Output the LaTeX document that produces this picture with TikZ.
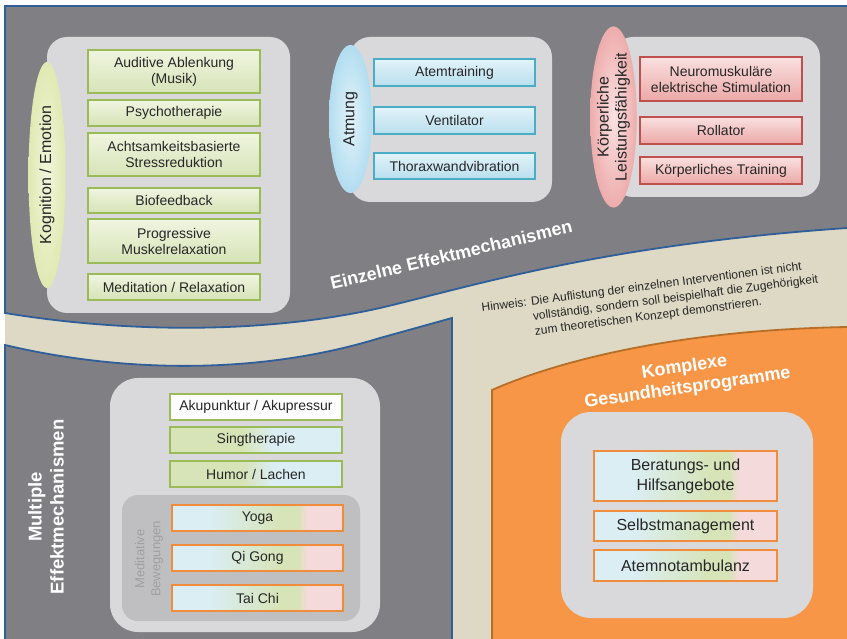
\documentclass[tikz,border=0pt]{standalone}
\usepackage{fontspec}
\setmainfont{Liberation Sans}
\usepackage{xcolor}
\usepackage{tikz}
\usetikzlibrary{shapes.geometric}

\definecolor{regiongray}{RGB}{128,128,132}
\definecolor{regionblue}{RGB}{47,94,153}
\definecolor{bandbeige}{RGB}{221,217,196}
\definecolor{grpgray}{RGB}{217,217,219}
\definecolor{medgray}{RGB}{191,191,193}
\definecolor{medtxt}{RGB}{160,160,163}
\definecolor{txtdark}{RGB}{38,38,38}
\definecolor{orangefill}{RGB}{247,150,70}
\definecolor{orangeline}{RGB}{182,110,40}
\definecolor{oborder}{RGB}{240,140,60}
\definecolor{kgreen}{RGB}{155,187,89}
\definecolor{gtop}{RGB}{240,245,224}
\definecolor{gbot}{RGB}{214,227,183}
\definecolor{kblue}{RGB}{75,172,198}
\definecolor{btop}{RGB}{226,243,250}
\definecolor{bbot}{RGB}{184,223,237}
\definecolor{kred}{RGB}{192,80,77}
\definecolor{rtop}{RGB}{248,224,223}
\definecolor{rbot}{RGB}{236,168,167}
\definecolor{lblue}{RGB}{218,238,243}
\definecolor{lgreen}{RGB}{215,228,183}
\definecolor{lpink}{RGB}{244,218,219}
\definecolor{kogin}{RGB}{242,245,220}
\definecolor{kogout}{RGB}{224,233,178}
\definecolor{atmin}{RGB}{226,243,250}
\definecolor{atmout}{RGB}{178,221,240}
\definecolor{koein}{RGB}{250,226,226}
\definecolor{koeout}{RGB}{238,172,172}

\pgfdeclarehorizontalshading{mixrow}{100bp}{color(0bp)=(lblue); color(36bp)=(lblue); color(57bp)=(lgreen); color(62bp)=(lgreen); color(64.5bp)=(lpink); color(100bp)=(lpink)}
\pgfdeclarehorizontalshading{singrow}{100bp}{color(0bp)=(lgreen); color(46bp)=(lgreen); color(55bp)=(lblue); color(100bp)=(lblue)}

\newcommand{\fsz}[2]{\fontsize{#1}{#2}\selectfont}

\tikzset{
  regionline/.style={draw=regionblue, line width=1.8pt},
  grpbox/.style={fill=grpgray, rounded corners=20pt},
  capsule/.style={ellipse, inner sep=0pt, rotate=90, align=center, text=txtdark, font=\fsz{16}{18}},
  greenbox/.style={draw=kgreen, line width=1.5pt, top color=gtop, bottom color=gbot, text=txtdark,
    align=center, inner sep=0pt, minimum width=172pt, minimum height=26pt, font=\fsz{14}{16}},
  bluebox/.style={greenbox, draw=kblue, top color=btop, bottom color=bbot, minimum width=161pt, minimum height=27pt},
  redbox/.style={greenbox, draw=kred, top color=rtop, bottom color=rbot, minimum width=162pt, minimum height=27pt},
  multibox/.style={draw=kgreen, line width=1.5pt, text=txtdark, align=center, inner sep=0pt,
    minimum width=172pt, minimum height=26pt, font=\fsz{14}{16}},
  mixbox/.style={multibox, draw=oborder, shading=mixrow},
  headline/.style={text=white, font=\bfseries\fsz{18}{21}, align=center, inner sep=0pt}
}

\begin{document}
\begin{tikzpicture}[x=1pt, y=-1pt]
  \useasboundingbox (0,0) rectangle (847,639);
  \fill[white] (0,0) rectangle (847,639);
  % Background band
  \fill[bandbeige] (5,6) rectangle (847,639);

  % Einzelne Effektmechanismen (upper region)
  \fill[regiongray] (5,6) -- (847,6) -- (847,228) .. controls (600,245) and (470,287) .. (380,308)
    .. controls (260,335) and (120,332) .. (5,313) -- cycle;
  \draw[regionline] (847,6) -- (5,6) -- (5,313) .. controls (120,332) and (260,335) .. (380,308)
    .. controls (470,287) and (600,245) .. (847,228);

  % Multiple Effektmechanismen (lower left region)
  \fill[regiongray] (5,345) .. controls (110,370) and (250,378) .. (380,338) -- (452,318)
    -- (452,639) -- (5,639) -- cycle;
  \draw[regionline] (5,639) -- (5,345) .. controls (110,370) and (250,378) .. (380,338)
    -- (452,318) -- (452,639);

  % Komplexe Gesundheitsprogramme (lower right region)
  \fill[orangefill] (492,639) -- (492,390) .. controls (560,360) and (680,330) .. (847,327) -- (847,639) -- cycle;
  \draw[orangeline, line width=1.8pt] (492,639) -- (492,390) .. controls (560,360) and (680,330) .. (847,327);

  % Kognition / Emotion
  \fill[grpbox] (47,37) rectangle (290,313);
  \node[capsule, inner color=kogin, outer color=kogout, minimum width=226pt, minimum height=37pt] (kog) at (47,175) {Kognition / Emotion};
  \node[greenbox, minimum height=43pt] (aud) at (174,71.5) {Auditive Ablenkung\\(Musik)};
  \node[greenbox] (psy) at (174,113) {Psychotherapie};
  \node[greenbox, minimum height=43pt] (mbsr) at (174,154.5) {Achtsamkeitsbasierte\\Stressreduktion};
  \node[greenbox, minimum height=25pt] (bio) at (174,200.5) {Biofeedback};
  \node[greenbox, minimum height=44pt] (pmr) at (174,241) {Progressive\\Muskelrelaxation};
  \node[greenbox] (medrel) at (174,287) {Meditation / Relaxation};

  % Atmung
  \fill[grpbox] (350,37) rectangle (552,202);
  \node[capsule, inner color=atmin, outer color=atmout, minimum width=148pt, minimum height=43pt] (atm) at (350.5,119) {Atmung};
  \node[bluebox] (atemtr) at (454.5,72.5) {Atemtraining};
  \node[bluebox] (vent) at (454.5,120.5) {Ventilator};
  \node[bluebox, minimum height=26pt] (thorax) at (454.5,166) {Thoraxwandvibration};

  % Koerperliche Leistungsfaehigkeit
  \fill[grpbox] (613,37) rectangle (820,197);
  \node[capsule, inner color=koein, outer color=koeout, minimum width=156pt, minimum height=43pt] (koerp) at (613.5,117) {Körperliche\\Leistungsfähigkeit};
  \node[redbox, minimum height=44pt] (nmes) at (721,79) {Neuromuskuläre\\elektrische Stimulation};
  \node[redbox] (roll) at (721,130.5) {Rollator};
  \node[redbox] (ktrain) at (721,170.5) {Körperliches Training};

  % Labels of the regions
  \node[headline, rotate=13.5, anchor=base west] (einzeln) at (332,290) {Einzelne Effektmechanismen};
  \node[text=txtdark, font=\fsz{12}{15}, rotate=7.5, anchor=base west, inner sep=0pt] (hinweis) at (482,312)
    {\begin{tabular}[t]{@{}l@{ }l@{}}Hinweis: & Die Auflistung der einzelnen Interventionen ist nicht\\
      & vollständig, sondern soll beispielhaft die Zugehörigkeit\\
      & zum theoretischen Konzept demonstrieren.\end{tabular}};
  \node[headline, rotate=8.3] (komplex) at (686,378) {Komplexe\\Gesundheitsprogramme};
  \node[headline, font=\bfseries\fsz{18.5}{22}, rotate=90] (multi) at (46,507) {Multiple\\Effektmechanismen};

  % Multiple Effektmechanismen
  \fill[grpbox, rounded corners=28pt] (110,378) rectangle (380,632);
  \node[multibox, fill=white] (aku) at (256,407) {Akupunktur / Akupressur};
  \node[multibox, shading=singrow] (sing) at (256,440) {Singtherapie};
  \node[multibox, shading=singrow] (humor) at (256,474) {Humor / Lachen};
  \fill[medgray, rounded corners=16pt] (122,495) rectangle (360,621);
  \node[rotate=90, text=medtxt, font=\fsz{13}{16}, align=center, inner sep=0pt] (medlab) at (149,559) {Meditative\\Bewegungen};
  \node[mixbox, minimum width=171pt] (yoga) at (257.5,518) {Yoga};
  \node[mixbox, minimum width=171pt] (qigong) at (257.5,558) {Qi Gong};
  \node[mixbox, minimum width=171pt] (taichi) at (257.5,598) {Tai Chi};

  % Komplexe Gesundheitsprogramme
  \fill[grpbox, rounded corners=30pt] (561,412) rectangle (813,618);
  \node[mixbox, minimum width=183pt, minimum height=50pt, font=\fsz{16}{20}] (berat) at (685.5,476) {Beratungs- und\\Hilfsangebote};
  \node[mixbox, minimum width=183pt, minimum height=30pt, font=\fsz{16}{20}] (selbst) at (685.5,526) {Selbstmanagement};
  \node[mixbox, minimum width=183pt, minimum height=31pt, font=\fsz{16}{20}] (ambul) at (685.5,565.5) {Atemnotambulanz};
\end{tikzpicture}
\end{document}
